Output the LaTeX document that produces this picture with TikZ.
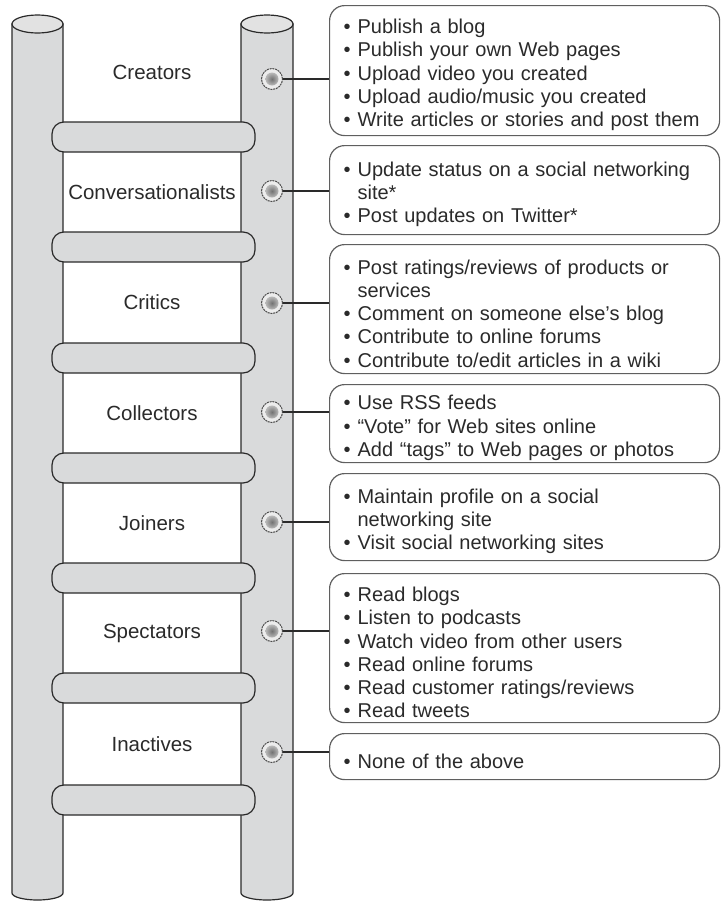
\documentclass[tikz,border=0pt]{standalone}
\usepackage{fontspec}
\setmainfont{Liberation Sans}
\definecolor{polegray}{HTML}{D9DADB}
\definecolor{topgray}{HTML}{E2E2E2}
\definecolor{ink}{HTML}{2A2A2A}
\newcommand\bitem[1]{\par\noindent\makebox[14pt][l]{\textbullet}#1}
\newcommand\bcont[1]{\par\noindent\hspace*{14pt}#1}
\tikzset{
 pole/.style={fill=polegray, draw=ink, line width=1.2pt},
 poletop/.style={fill=topgray, draw=ink, line width=1.2pt},
 rung/.style={rectangle, rounded corners=12pt, fill=polegray, draw=ink, line width=1.2pt, minimum width=203pt, minimum height=30pt, inner sep=0pt},
 lbl/.style={font=\fontsize{20.5}{24}\selectfont, text=ink, inner sep=0pt},
 ring/.style={circle, minimum size=21pt, inner sep=0pt, draw=ink!85, fill=white!85!gray, dash pattern=on 2pt off 0.8pt, line width=1pt},
 box/.style={rectangle, rounded corners=15pt, draw=ink!75, line width=1.2pt, anchor=north west, text width=362pt, inner xsep=14pt, inner ysep=0pt, align=left, font=\fontsize{20}{23.3}\selectfont, text=ink},
 conn/.style={draw=ink, line width=1.1pt}
}
\begin{document}
\begin{tikzpicture}[x=1pt,y=-1pt]
\useasboundingbox (0,0) rectangle (721,903);
% poles
\path[pole] (12,24) -- (12,893) arc[start angle=180, end angle=360, x radius=25.5pt, y radius=7pt] -- (63,24) -- cycle;
\path[poletop] (37.5,24) ellipse[x radius=25.5pt, y radius=9pt];
\path[pole] (241,24) -- (241,893) arc[start angle=180, end angle=360, x radius=26pt, y radius=7pt] -- (293,24) -- cycle;
\path[poletop] (267,24) ellipse[x radius=26pt, y radius=9pt];
% rungs
\foreach \y/\n in {137/1,247/2,358/3,468/4,578/5,688/6,800/7}{
  \node[rung] (r\n) at (153.5,\y) {};
}
% labels
\node[lbl] (l1) at (152,72) {Creators};
\node[lbl] (l2) at (152,192) {Conversationalists};
\node[lbl] (l3) at (152,302) {Critics};
\node[lbl] (l4) at (152,413) {Collectors};
\node[lbl] (l5) at (152,523) {Joiners};
\node[lbl] (l6) at (152,633) {Spectators};
\node[lbl] (l7) at (152,744) {Inactives};
% boxes
\node[box, minimum height=130pt] (b1) at (329,5) {%
\bitem{Publish a blog}
\bitem{Publish your own Web pages}
\bitem{Upload video you created}
\bitem{Upload audio/music you created}
\bitem{Write articles or stories and post them}};
\node[box, minimum height=89pt] (b2) at (329,145) {%
\bitem{Update status on a social networking}
\bcont{site*}
\bitem{Post updates on Twitter*}};
\node[box, minimum height=129pt] (b3) at (329,244) {%
\bitem{Post ratings/reviews of products or}
\bcont{services}
\bitem{Comment on someone else’s blog}
\bitem{Contribute to online forums}
\bitem{Contribute to/edit articles in a wiki}};
\node[box, minimum height=78pt] (b4) at (329,384) {%
\bitem{Use RSS feeds}
\bitem{“Vote” for Web sites online}
\bitem{Add “tags” to Web pages or photos}};
\node[box, minimum height=87pt] (b5) at (329,473) {%
\bitem{Maintain profile on a social}
\bcont{networking site}
\bitem{Visit social networking sites}};
\node[box, minimum height=149pt] (b6) at (329,573) {%
\bitem{Read blogs}
\bitem{Listen to podcasts}
\bitem{Watch video from other users}
\bitem{Read online forums}
\bitem{Read customer ratings/reviews}
\bitem{Read tweets}};
\node[box, minimum height=46pt] (b7) at (329,733) {%
\bitem{None of the above}};
% markers and connectors
\foreach \y/\n in {79/1,191/2,303/3,412/4,522/5,631/6,752/7}{
  \node[ring] (m\n) at (272,\y) {};
  \shade[inner color=gray!90!black, outer color=gray!55] (m\n.center) circle[radius=6.5pt];
  \draw[conn] (m\n.east) -- (m\n -| b\n.west);
}
\end{tikzpicture}
\end{document}
